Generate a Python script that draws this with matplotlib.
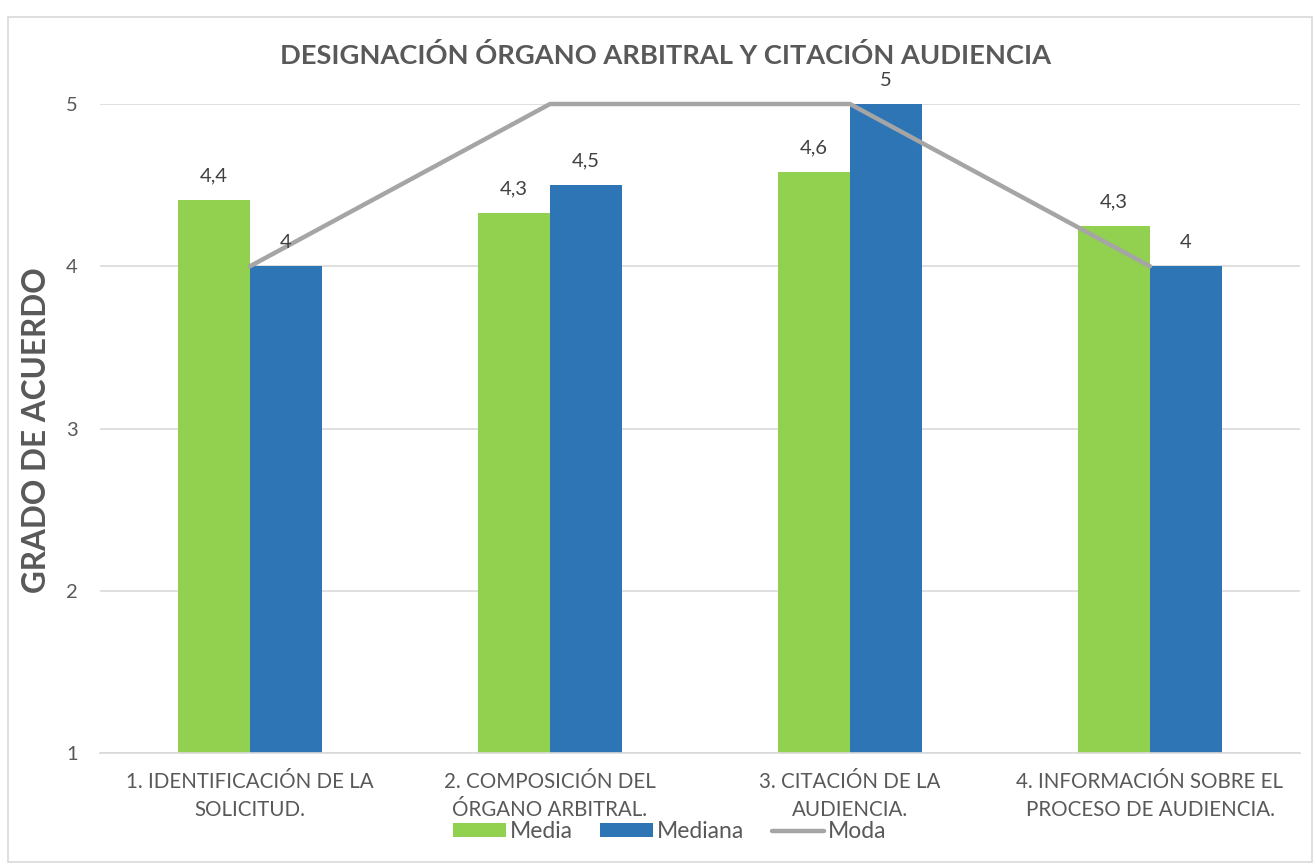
import matplotlib.pyplot as plt
import numpy as np
from matplotlib.patches import Rectangle

categories = [
    "1. IDENTIFICACIÓN DE LA\nSOLICITUD.",
    "2. COMPOSICIÓN DEL\nÓRGANO ARBITRAL.",
    "3. CITACIÓN DE LA\nAUDIENCIA.",
    "4. INFORMACIÓN SOBRE EL\nPROCESO DE AUDIENCIA.",
]
media = [4.41, 4.33, 4.58, 4.25]
media_labels = ["4,4", "4,3", "4,6", "4,3"]
mediana = [4, 4.5, 5, 4]
mediana_labels = ["4", "4,5", "5", "4"]
moda = [4, 5, 5, 4]
yticks = [1, 2, 3, 4, 5]


def main():
    plt.rcParams["font.family"] = ["Lato", "DejaVu Sans"]
    txt = "#595959"

    fig = plt.figure(figsize=(13.14, 8.64), dpi=100)
    fig.patches.append(Rectangle((8 / 1314, 2 / 864), 1304 / 1314, 845 / 864,
                                 transform=fig.transFigure, fill=False,
                                 ec="#D9D9D9", lw=1.2))
    ax = fig.add_axes([100 / 1314, 1 - 753 / 864, 1200 / 1314, 649 / 864])

    x = np.arange(len(categories))
    w = 0.24
    b1 = ax.bar(x - w / 2, np.array(media) - 1, w, bottom=1, color="#92D050", zorder=2)
    b2 = ax.bar(x + w / 2, np.array(mediana) - 1, w, bottom=1, color="#2E75B6", zorder=2)
    ln, = ax.plot(x, moda, color="#A5A5A5", lw=3.2, zorder=3, clip_on=False,
                  solid_capstyle="round")

    for xi, v, lab in zip(x, media, media_labels):
        ax.annotate(lab, (xi - w / 2, v), xytext=(0, 11), textcoords="offset points",
                    ha="center", va="bottom", fontsize=14.5, color="#404040", zorder=4)
    for xi, v, lab in zip(x, mediana, mediana_labels):
        ax.annotate(lab, (xi + w / 2, v), xytext=(0, 11), textcoords="offset points",
                    ha="center", va="bottom", fontsize=14.5, color="#404040", zorder=4,
                    annotation_clip=False)

    ax.set_xlim(-0.5, len(categories) - 0.5)
    ax.set_ylim(1, 5)
    ax.set_yticks(yticks)
    ax.set_xticks(x)
    ax.set_xticklabels(categories, fontsize=14.8, color=txt, linespacing=1.45)
    ax.tick_params(axis="y", labelsize=14.5, labelcolor=txt, length=0, pad=16)
    ax.tick_params(axis="x", length=0, pad=14)
    ax.grid(axis="y", color="#D9D9D9", lw=1.2, zorder=0)
    ax.set_axisbelow(True)
    for s in ["top", "right", "left"]:
        ax.spines[s].set_visible(False)
    ax.spines["bottom"].set_color("#D9D9D9")
    ax.spines["bottom"].set_linewidth(1.2)

    ax.set_ylabel("GRADO DE ACUERDO", fontsize=22.7, fontweight="bold", color=txt)
    ax.yaxis.set_label_coords(-0.041, 0.498)
    fig.text(666 / 1314, 1 - 55 / 864, "DESIGNACIÓN ÓRGANO ARBITRAL Y CITACIÓN AUDIENCIA",
             ha="center", va="center", fontsize=19.6, fontweight="bold", color=txt)

    fig.legend([b1, b2, ln], ["Media", "Mediana", "Moda"], loc="center",
               bbox_to_anchor=(670 / 1314, 1 - 832 / 864), ncol=3, frameon=False,
               fontsize=16.5, labelcolor=txt, handlelength=2.3, handletextpad=0.17,
               columnspacing=1.2, handleheight=0.55)

    fig.savefig("out.png", dpi=100)


if __name__ == "__main__":
    main()
